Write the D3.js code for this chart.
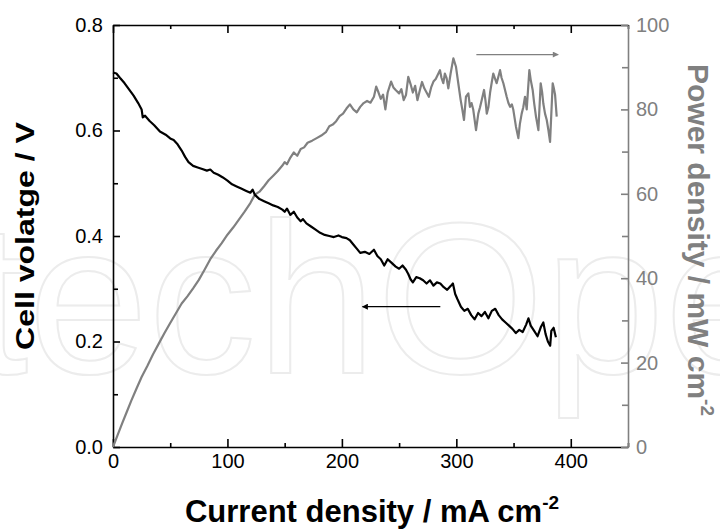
<!DOCTYPE html>
<html><head><meta charset="utf-8">
<script src="https://cdn.jsdelivr.net/npm/d3@7"></script>
<style>
html,body{margin:0;padding:0;background:#fff;}
svg{display:block;font-family:"Liberation Sans",Arial,Helvetica,sans-serif;}
</style></head>
<body><svg id="c" width="720" height="532"></svg>
<script>
// ---- data ----
const voltCurrent = [0,3,6,10,14,18,22,25,26,28,32,36,41,46,50,53,56,60,63,66,70,74,78,82,85,88,92,96,100,104,108,112,116,120,122,124,128,132,136,140,144,148,150,152,155,158,161,164,166,169,173,177,181,185,189,193,197,200,204,207,210,213,216,220,224,228,231,234,237,240,243,247,250,253,256,258,260,262,265,268,271,274,277,280,283,286,289,292,295,297,299,301,304,307,310,313,316,319,322,325,328,331,334,337,340,343,346,349,352,355,358,361,363,365,368,371,374,376,378,380,382,383,385,387];
const voltage = [0.710,0.708,0.700,0.690,0.678,0.666,0.652,0.640,0.625,0.628,0.618,0.610,0.598,0.592,0.585,0.582,0.575,0.562,0.550,0.540,0.533,0.530,0.527,0.524,0.526,0.520,0.516,0.511,0.505,0.498,0.494,0.490,0.486,0.482,0.488,0.478,0.470,0.466,0.462,0.458,0.455,0.450,0.446,0.452,0.440,0.446,0.435,0.428,0.432,0.424,0.418,0.412,0.406,0.402,0.400,0.398,0.401,0.398,0.396,0.392,0.384,0.376,0.368,0.370,0.366,0.374,0.362,0.356,0.344,0.356,0.350,0.342,0.338,0.344,0.336,0.328,0.318,0.312,0.322,0.320,0.316,0.310,0.316,0.306,0.312,0.310,0.303,0.298,0.305,0.310,0.290,0.280,0.266,0.258,0.262,0.250,0.242,0.254,0.248,0.256,0.244,0.258,0.262,0.250,0.242,0.236,0.230,0.224,0.216,0.222,0.218,0.232,0.244,0.230,0.220,0.210,0.228,0.236,0.214,0.200,0.192,0.220,0.226,0.208];

const powerCurrent = [0,4,8,12,16,20,25,30,35,40,45,50,55,60,65,70,75,80,85,90,95,100,105,110,115,120,124,128,132,136,140,144,148,150,152,155,158,161,164,167,170,174,178,182,186,189,192,195,198,201,204,207,210,213,216,219,222,225,228,230,232,234,236,238,240,243,245,247,250,252,254,256,258,260,262,264,266,268,270,272,274,276,278,280,282,285.7,287,288.6,290,291.5,293,295,297.4,299.7,301.7,303.8,305.2,306.7,308.4,310.5,311.9,313.3,314.8,316,317.2,319.2,320.7,322.2,324.2,325.5,326.6,328,329.5,331,332.3,335.2,336.5,338.2,339.5,341.1,344,345.5,347,348.5,349.8,352.1,354.2,355.5,357.1,358.5,360,361.5,363.8,365,366.7,368,369.6,371.7,373.7,375,376,377.5,379,380.5,381.9,384.2,385.2,386.3,387.7];
const power = [0,2.8,5.6,8.3,11.0,13.5,16.6,19.2,22.0,24.5,27.0,29.4,31.7,34.0,35.7,37.6,39.6,42.0,44.5,46.5,48.3,50.3,52.0,53.9,55.8,57.8,59.8,60.5,61.8,63.2,64.3,65.4,66.7,67.5,67.0,68.6,69.8,69.0,70.6,71.0,72.1,72.6,73.2,73.8,74.6,76.0,76.4,77.2,78.4,79.0,80.2,81.2,80.0,79.3,80.6,81.5,82.0,81.6,83.0,85.4,84.0,82.5,83.5,80.0,84.0,86.6,85.2,84.6,83.8,84.8,82.2,83.4,87.7,86.0,84.0,85.6,82.2,84.4,86.5,85.0,84.0,83.0,85.2,86.6,87.2,89.3,87.5,86.2,88.5,87.4,85.0,88.5,92.1,90.1,86.2,82.2,80.0,77.5,83.0,83.8,80.6,81.5,79.9,77.5,75.1,79.0,80.5,82.2,84.6,82.0,79.0,80.5,84.0,86.5,88.5,86.2,87.5,89.3,87.5,86.2,83.0,81.5,80.6,81.2,79.9,75.9,73.2,76.5,79.0,80.5,83.0,80.0,89.3,87.0,84.6,81.5,78.3,75.1,86.2,84.0,81.4,79.0,77.5,75.0,72.3,86.2,85.0,83.4,78.3];

const xTicks = [0,100,200,300,400];
const xMinor = [50,150,250,350,450];
const vTicks = [0.0,0.2,0.4,0.6,0.8];
const vMinor = [0.1,0.3,0.5,0.7];
const pTicks = [0,20,40,60,80,100];
const pMinor = [10,30,50,70,90];
// arrows: [x1, x2, y] in data units
const arrowVolt = [286, 218, 0.266];
const arrowPower = [317.5, 389, 93];

const xLabel = "Current density / mA cm";
const yLabel = "Cell volatge / V";
const y2Label = "Power density / mW cm";
const watermark = "IntechOpen";

// ---- drawing ----
const GRAY = "#808080";
const svg = d3.select("#c");
const L = 113, R = 628, T = 25, B = 447;
const x = d3.scaleLinear().domain([0,450]).range([L,R]);
const yV = d3.scaleLinear().domain([0,0.8]).range([B,T]);
const yP = d3.scaleLinear().domain([0,100]).range([B,T]);

// watermark
svg.append("text").attr("x",-212).attr("y",373)
  .attr("font-size",216).attr("fill","#fff").attr("stroke","#ececec").attr("stroke-width",2)
  .text(watermark);

function styleAxis(g, color, fs){
  g.selectAll(".domain").attr("stroke",color).attr("stroke-width",1.6);
  g.selectAll(".tick line").attr("stroke",color).attr("stroke-width",1.6);
  g.selectAll(".tick text").attr("fill",color).attr("font-size",fs)
    .attr("font-family","'Liberation Sans',Arial,sans-serif");
}

// bottom
const gb = svg.append("g").attr("transform",`translate(0,${B})`)
  .call(d3.axisBottom(x).tickValues(xTicks).tickSize(-8).tickSizeOuter(0).tickPadding(7).tickFormat(d3.format("d")));
styleAxis(gb,"#000",20);
const gbm = svg.append("g").attr("transform",`translate(0,${B})`)
  .call(d3.axisBottom(x).tickValues(xMinor).tickSize(-4).tickSizeOuter(0).tickFormat(""));
gbm.select(".domain").remove(); styleAxis(gbm,"#000",20);
// top
const gt = svg.append("g").attr("transform",`translate(0,${T})`)
  .call(d3.axisTop(x).tickValues(xTicks).tickSize(-8).tickSizeOuter(0).tickFormat(""));
styleAxis(gt,"#000",20);
const gtm = svg.append("g").attr("transform",`translate(0,${T})`)
  .call(d3.axisTop(x).tickValues(xMinor).tickSize(-4).tickSizeOuter(0).tickFormat(""));
gtm.select(".domain").remove(); styleAxis(gtm,"#000",20);
// left
const gl = svg.append("g").attr("transform",`translate(${L},0)`)
  .call(d3.axisLeft(yV).tickValues(vTicks).tickSize(-7).tickSizeOuter(0).tickPadding(10).tickFormat(d3.format(".1f")));
styleAxis(gl,"#000",20);
const glm = svg.append("g").attr("transform",`translate(${L},0)`)
  .call(d3.axisLeft(yV).tickValues(vMinor).tickSize(-5).tickSizeOuter(0).tickFormat(""));
glm.select(".domain").remove(); styleAxis(glm,"#000",20);
// right
const gr = svg.append("g").attr("transform",`translate(${R},0)`)
  .call(d3.axisRight(yP).tickValues(pTicks).tickSize(-7).tickSizeOuter(0).tickPadding(8).tickFormat(d3.format("d")));
styleAxis(gr,GRAY,20);
const grm = svg.append("g").attr("transform",`translate(${R},0)`)
  .call(d3.axisRight(yP).tickValues(pMinor).tickSize(-6).tickSizeOuter(0).tickFormat(""));
grm.select(".domain").remove(); styleAxis(grm,GRAY,20);

// curves
const lineP = d3.line().x((d,i)=>x(powerCurrent[i])).y(d=>yP(d));
svg.append("path").datum(power).attr("d",lineP).attr("fill","none")
  .attr("stroke",GRAY).attr("stroke-width",2.2).attr("stroke-linejoin","round");
const lineV = d3.line().x((d,i)=>x(voltCurrent[i])).y(d=>yV(d));
svg.append("path").datum(voltage).attr("d",lineV).attr("fill","none")
  .attr("stroke","#000").attr("stroke-width",2.2).attr("stroke-linejoin","round");

// arrows
const defs = svg.append("defs");
function marker(id,color){
  defs.append("marker").attr("id",id).attr("viewBox","0 0 10 10").attr("refX",9).attr("refY",5)
    .attr("markerWidth",9).attr("markerHeight",6).attr("markerUnits","userSpaceOnUse").attr("orient","auto")
    .append("path").attr("d","M0,0 L10,5 L0,10 Z").attr("fill",color);
}
marker("ab","#000"); marker("ag",GRAY);
svg.append("line").attr("x1",x(arrowVolt[0])).attr("x2",x(arrowVolt[1]))
  .attr("y1",yV(arrowVolt[2])).attr("y2",yV(arrowVolt[2]))
  .attr("stroke","#000").attr("stroke-width",1.3).attr("marker-end","url(#ab)");
svg.append("line").attr("x1",x(arrowPower[0])).attr("x2",x(arrowPower[1]))
  .attr("y1",yP(arrowPower[2])).attr("y2",yP(arrowPower[2]))
  .attr("stroke",GRAY).attr("stroke-width",1.3).attr("marker-end","url(#ag)");

// titles
const xt = svg.append("text").attr("x",372).attr("y",522).attr("text-anchor","middle")
  .attr("font-size",31).attr("font-weight","bold").attr("fill","#000");
xt.append("tspan").text(xLabel);
xt.append("tspan").attr("font-size",19).attr("dy",-13).text("-2");

svg.append("text").attr("transform","translate(34,236) rotate(-90)").attr("text-anchor","middle")
  .attr("font-size",26).attr("font-weight","bold").attr("fill","#000")
  .attr("textLength",228).attr("lengthAdjust","spacingAndGlyphs").text(yLabel);

const yt = svg.append("text").attr("transform","translate(688,240) rotate(90)").attr("text-anchor","middle")
  .attr("font-size",30).attr("font-weight","bold").attr("fill",GRAY);
yt.append("tspan").text(y2Label);
yt.append("tspan").attr("font-size",19).attr("dy",-13).text("-2");
</script></body></html>
